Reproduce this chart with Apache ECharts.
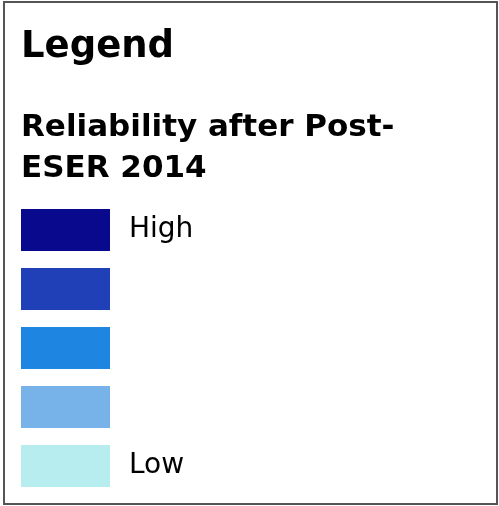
<!DOCTYPE html>
<html>
<head>
<meta charset="utf-8">
<script src="https://cdn.jsdelivr.net/npm/echarts@6/dist/echarts.min.js"></script>
<style>
  html, body { margin: 0; padding: 0; background: #fff; }
  #main { width: 499px; height: 506px; }
</style>
</head>
<body>
<div id="main"></div>
<script>
  // legend classes, top (high) to bottom (low)
  const levels = [5, 4, 3, 2, 1]
  const levelLabels = ['High', ' ', ' ', ' ', 'Low']
  const levelColors = ['#09098e', '#1f40b6', '#1e86e0', '#77b3e8', '#b8edf0']
  const titleText = 'Legend'
  const subTitleText = 'Reliability after Post-\nESER 2014'

  const myChart = echarts.init(document.getElementById('main'))

  const pieces = levels.map((v, i) => ({
    value: v,
    label: levelLabels[i],
    color: levelColors[i]
  }))

  const option = {
    animation: false,
    backgroundColor: '#fff',
    title: [
      {
        text: titleText,
        left: 21,
        top: 29,
        padding: 0,
        textStyle: {
          fontFamily: 'DejaVu Sans',
          fontWeight: 'bold',
          fontSize: 37,
          color: '#000'
        }
      },
      {
        text: subTitleText,
        left: 21,
        top: 107,
        padding: 0,
        textStyle: {
          fontFamily: 'DejaVu Sans',
          fontWeight: 'bold',
          fontSize: 31,
          lineHeight: 41,
          color: '#000'
        }
      }
    ],
    visualMap: {
      type: 'piecewise',
      orient: 'vertical',
      left: 21,
      top: 209,
      padding: 0,
      itemWidth: 89,
      itemHeight: 42,
      itemGap: 17,
      itemSymbol: 'rect',
      textGap: 19,
      selectedMode: false,
      showLabel: true,
      pieces: pieces,
      textStyle: {
        fontFamily: 'DejaVu Sans',
        fontSize: 28,
        color: '#000',
        padding: [10, 0, 0, 0]
      }
    },
    graphic: [
      {
        type: 'rect',
        shape: { x: 4, y: 2, width: 493, height: 502 },
        style: { fill: 'none', stroke: '#555', lineWidth: 2 },
        silent: true
      }
    ],
    series: []
  }

  myChart.setOption(option)
</script>
</body>
</html>
